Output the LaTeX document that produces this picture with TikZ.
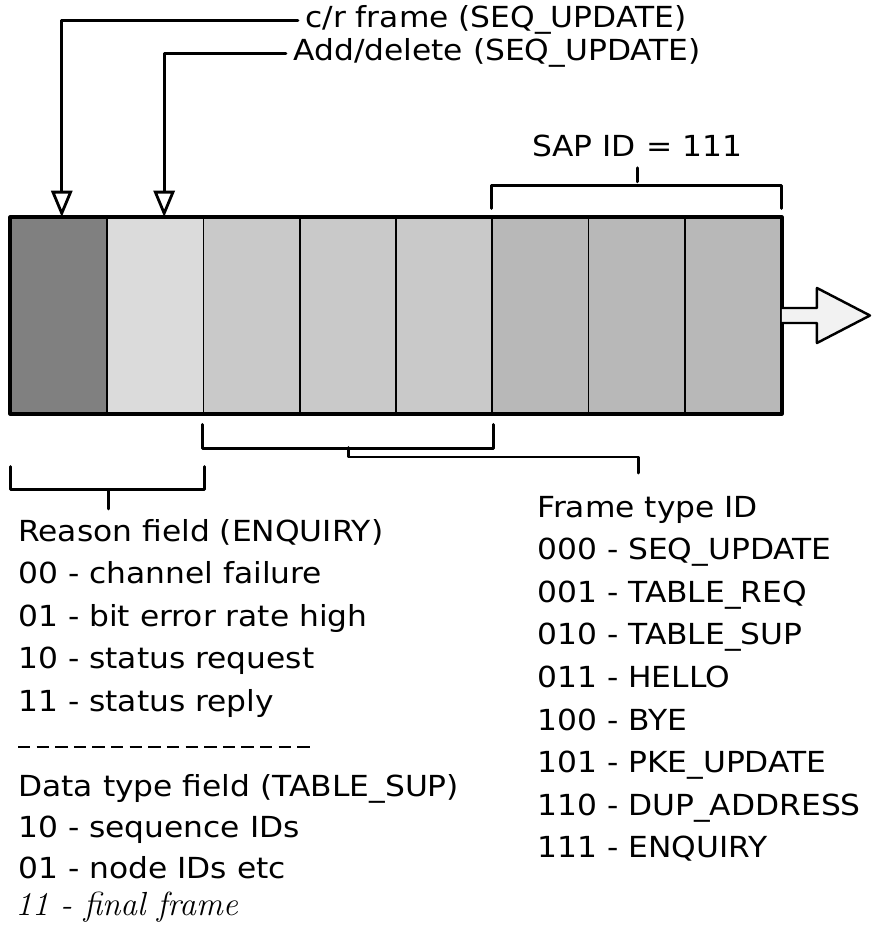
\documentclass[tikz,border=0pt]{standalone}
\usepackage{fontspec}
\setsansfont{DejaVu Sans}[FakeStretch=1.08]
\usetikzlibrary{arrows.meta}
\definecolor{FrmDark}{gray}{0.50}
\definecolor{FrmLight}{gray}{0.86}
\definecolor{FrmMid}{gray}{0.79}
\definecolor{FrmSap}{gray}{0.72}
\definecolor{FrmOut}{gray}{0.95}
\tikzset{
  lbl/.style={anchor=base west,inner sep=0pt},
  pointer/.style={-{Triangle[open,length=15pt,width=12pt]},line width=1.6pt},
  bracket/.style={line width=1.7pt},
}

\begin{document}
\begin{tikzpicture}[x=0.02cm,y=-0.02cm,line cap=round,line join=round,font=\sffamily\fontsize{16.5}{19}\selectfont]
  \useasboundingbox (0,0) rectangle (871,925);
  % the frame, eight fields
  \foreach \i/\col in {1/FrmDark,2/FrmLight,3/FrmMid,4/FrmMid,5/FrmMid,6/FrmSap,7/FrmSap,8/FrmSap}{
    \node[draw,fill=\col,line width=1.1pt,minimum width=1.925cm,minimum height=3.9cm,inner sep=0pt] (c\i) at ({11+96.25*(\i-0.5)},315.5) {};
  }
  \draw[line width=1.8pt] (c1.north west) rectangle (c8.south east);
  \draw[fill=FrmOut,line width=1.4pt] (c8.east) ++(0,-7.5) -- ++(35,0) -- ++(0,-20) -- ++(53,27.5) -- ++(-53,27.5) -- ++(0,-20) -- ++(-35,0);

  % top labels
  \node[lbl] (crlbl) at (305,28) {c/r frame (SEQ\_UPDATE)};
  \node[lbl] (adlbl) at (293,61) {Add/delete (SEQ\_UPDATE)};
  \draw[pointer] ([xshift=-4pt]crlbl.west) -| ([xshift=1.5pt]c1.north);
  \draw[pointer] ([xshift=-4pt]adlbl.west) -| ([xshift=5pt]c2.north);

  \node[anchor=base,inner sep=0pt] (sap) at (637,157) {SAP ID = 111};
  \draw[bracket] ([yshift=5pt]c6.north west) -- ++(0,-23) -| ([yshift=5pt]c8.north east);
  \draw[bracket] (sap.south) ++(0,10) -- ++(0,14);

  % brackets under the frame
  \draw[bracket] ([yshift=-6pt]c3.south west) -- ++(0,24) -| ([yshift=-6pt]c5.south east);
  \coordinate (midb) at (348,447.5);
  \coordinate (ftick) at (638,473);
  \draw[bracket] (midb) -- ++(0,9.5) -| (ftick);
  \draw[bracket] ([yshift=-30pt]c1.south west) -- ++(0,23) -| ([yshift=-30pt]c2.south east);
  \draw[bracket] (c1.south east) ++(0,76) -- ++(0,19);

  % left column
  \node[lbl] (reason) at (18,541) {Reason field (ENQUIRY)};
  \foreach \bits/\desc [count=\k] in {00/channel failure,01/bit error rate high,10/status request,11/status reply}{
    \node[lbl] (r\k) at (18,{541+42.5*\k}) {\bits{} - \desc};
  }
  \draw[line width=1.6pt,line cap=butt,dash pattern=on 7pt off 3.6pt] (18,747) -- (315,747);
  \node[lbl] (dtype) at (18,796) {Data type field (TABLE\_SUP)};
  \node[lbl] (d1) at (18,837) {10 - sequence IDs};
  \node[lbl] (d2) at (18,878) {01 - node IDs etc};
  \node[lbl,font=\rmfamily\itshape\fontsize{19}{21}\selectfont] (d3) at (15,915) {11 - final frame};

  % right column
  \node[lbl] (ftype) at (537,517) {Frame type ID};
  \foreach \bits/\desc [count=\k] in {000/SEQ\_UPDATE,001/TABLE\_REQ,010/TABLE\_SUP,011/HELLO,100/BYE,101/PKE\_UPDATE,110/DUP\_ADDRESS,111/ENQUIRY}{
    \node[lbl] (f\k) at (537,{517+42.6*\k}) {\bits{} - \desc};
  }
\end{tikzpicture}
\end{document}
